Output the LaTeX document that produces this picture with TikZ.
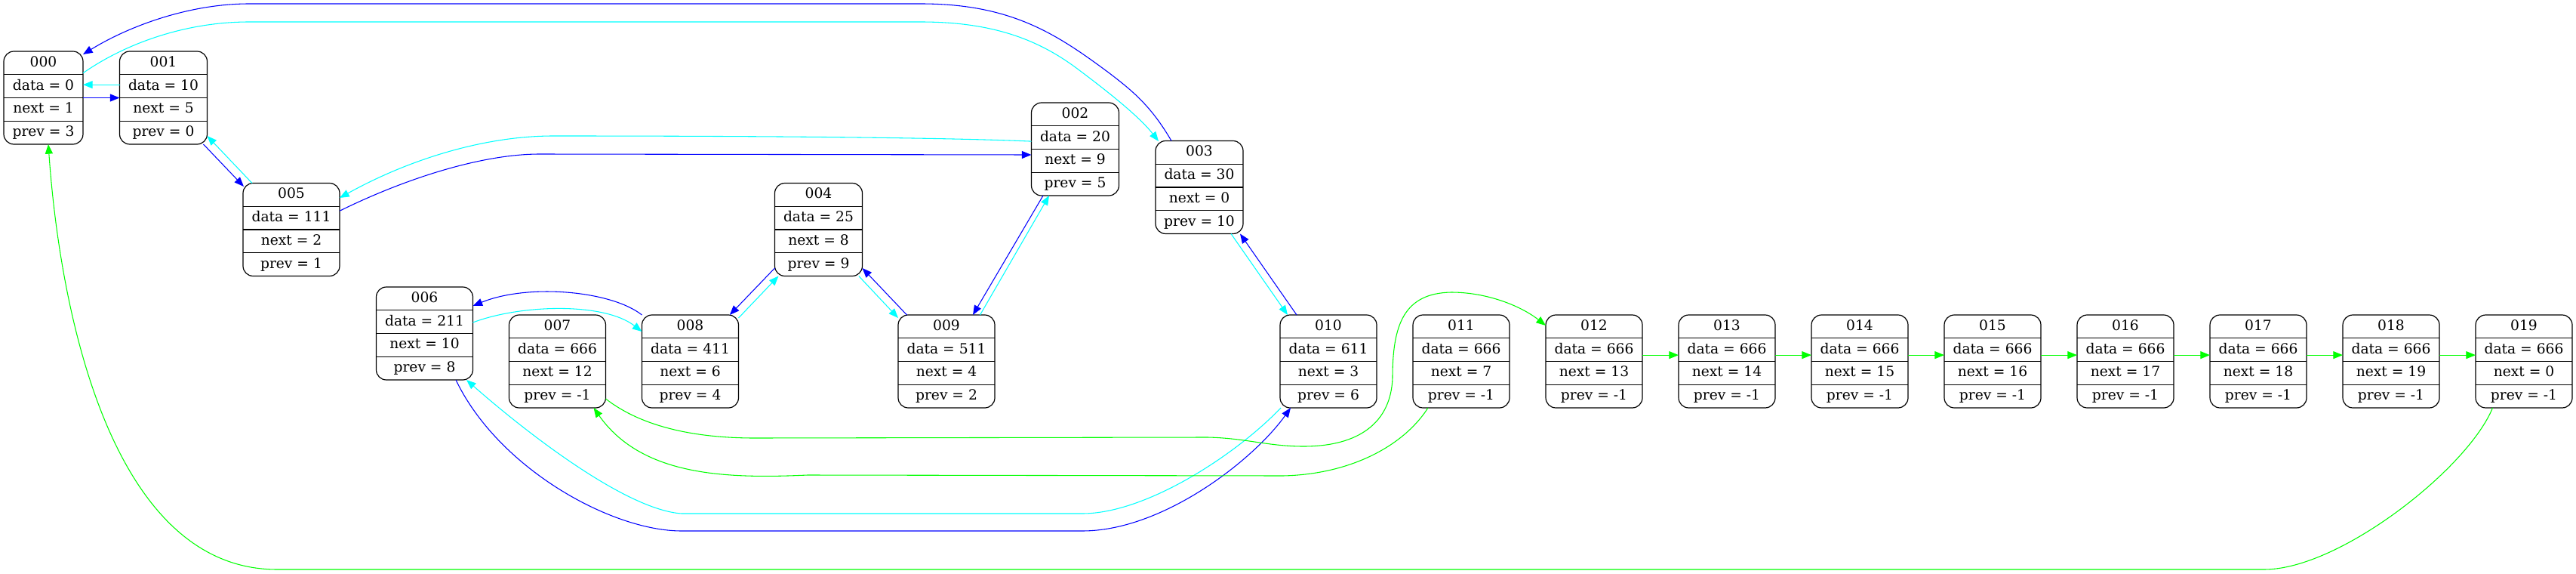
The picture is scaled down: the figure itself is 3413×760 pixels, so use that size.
\documentclass[tikz,border=0pt]{standalone}
\usepackage{fontspec}
\newfontfamily\recfont{DejaVu Serif}
\usetikzlibrary{arrows.meta,calc}
\definecolor{gvblue}{RGB}{0,0,255}
\definecolor{gvcyan}{RGB}{0,255,255}
\definecolor{gvgreen}{RGB}{0,255,0}
\tikzset{
  recbox/.style={draw=black, line width=0.9pt, rounded corners=10pt, inner sep=0pt, outer sep=0pt,
    minimum height=92.25pt, anchor=north west},
  cellbox/.style={inner sep=0pt, outer sep=0pt, minimum height=23.0625pt, text height=10pt, text depth=2.5pt,
    font={\recfont\fontsize{14}{16}\selectfont}, anchor=north},
  sepline/.style={draw=black, line width=0.9pt},
  tipstyle/.style={-{Triangle[length=9.5pt,width=7.5pt]}},
  nxedge/.style={draw=gvblue, line width=0.8pt, tipstyle},
  pvedge/.style={draw=gvcyan, line width=0.8pt, tipstyle},
  fredge/.style={draw=gvgreen, line width=0.8pt, tipstyle}
}
\newcommand\recnode[8]{%
  \node[recbox, minimum width=#4*0.75pt] (#1) at (#2,#3) {};
  \node[cellbox, minimum width=#4*0.75pt] (#1-t) at (#1.north) {#5};
  \node[cellbox, minimum width=#4*0.75pt] (#1-d) at (#1-t.south) {#6};
  \node[cellbox, minimum width=#4*0.75pt] (#1-n) at (#1-d.south) {#7};
  \node[cellbox, minimum width=#4*0.75pt] (#1-p) at (#1-n.south) {#8};
  \draw[sepline] (#1-t.south west) -- (#1-t.south east)
                 (#1-d.south west) -- (#1-d.south east)
                 (#1-n.south west) -- (#1-n.south east);
}
\begin{document}
\begin{tikzpicture}[x=0.75pt, y=-0.75pt]
\useasboundingbox (0,0) rectangle (3413,760);

\recnode{n000}{5}{68}{105}{000}{data = 0}{next = 1}{prev = 3}
\recnode{n001}{158.5}{68}{116}{001}{data = 10}{next = 5}{prev = 0}
\recnode{n002}{1366.5}{136}{116}{002}{data = 20}{next = 9}{prev = 5}
\recnode{n003}{1531}{186.5}{116}{003}{data = 30}{next = 0}{prev = 10}
\recnode{n004}{1026.5}{242.5}{116}{004}{data = 25}{next = 8}{prev = 9}
\recnode{n005}{322}{242.5}{128}{005}{data = 111}{next = 2}{prev = 1}
\recnode{n006}{498.5}{380}{128}{006}{data = 211}{next = 10}{prev = 8}
\recnode{n007}{674.5}{417}{128}{007}{data = 666}{next = 12}{prev = -1}
\recnode{n008}{850.5}{417}{128}{008}{data = 411}{next = 6}{prev = 4}
\recnode{n009}{1190}{417}{128}{009}{data = 511}{next = 4}{prev = 2}
\recnode{n010}{1696}{417}{128}{010}{data = 611}{next = 3}{prev = 6}
\recnode{n011}{1872}{417}{128}{011}{data = 666}{next = 7}{prev = -1}
\recnode{n012}{2048}{417}{128}{012}{data = 666}{next = 13}{prev = -1}
\recnode{n013}{2224}{417}{128}{013}{data = 666}{next = 14}{prev = -1}
\recnode{n014}{2400}{417}{128}{014}{data = 666}{next = 15}{prev = -1}
\recnode{n015}{2576}{417}{128}{015}{data = 666}{next = 16}{prev = -1}
\recnode{n016}{2752}{417}{128}{016}{data = 666}{next = 17}{prev = -1}
\recnode{n017}{2928}{417}{128}{017}{data = 666}{next = 18}{prev = -1}
\recnode{n018}{3104}{417}{128}{018}{data = 666}{next = 19}{prev = -1}
\recnode{n019}{3280}{417}{128}{019}{data = 666}{next = 0}{prev = -1}

% next pointers (blue)
\draw[nxedge] (n000-n.north east) -- (n001-n.north west);
\draw[nxedge] ([shift={(-5,0)}]n001.south east) -- ([shift={(1,4.5)}]n005.north west);
\draw[nxedge] ([shift={(0,6)}]n005-d.north east) .. controls (540,235) and (640,204) .. (715,204)
   -- ([shift={(0,7.5)}]n002-n.north west);
\draw[nxedge] ([shift={(15.5,0)}]n002.south west) -- ([shift={(-29,0)}]n009.north east);
\draw[nxedge] ([shift={(11.5,0)}]n009.north west) -- ([shift={(0,-10.5)}]n004.south east);
\draw[nxedge] ([shift={(0,-10.5)}]n004.south west) -- ([shift={(-11.7,0)}]n008.north east);
\draw[nxedge] (n008.north west) .. controls (810,385) and (700,375) .. ([shift={(0,25)}]n006.north east);
\draw[nxedge] ([shift={(41.5,0)}]n006.south) .. controls (660,620) and (810,703) .. (903,703)
   -- (1434,703) .. controls (1540,703) and (1660,610) .. ([shift={(14,0)}]n010.south west);
\draw[nxedge] ([shift={(22,0)}]n010.north west) -- ([shift={(-4,0)}]n003.south east);
\draw[nxedge] ([shift={(21,0)}]n003.north west) .. controls (1525,140) and (1500,120) .. (1470,97)
   .. controls (1400,45) and (1340,5) .. (1220,5) -- (330,5)
   .. controls (250,5) and (170,35) .. ([shift={(0,4)}]n000.north east);

% prev pointers (cyan)
\draw[pvedge] ([shift={(0,-2)}]n001-d.west) -- ([shift={(0,-2)}]n000-d.east);
\draw[pvedge] ([shift={(12,0)}]n005.north west) -- ([shift={(0,-11)}]n001.south east);
\draw[pvedge] ([shift={(0,5)}]n002-d.west) .. controls (1250,182) and (1000,180) .. (733,180)
   .. controls (640,180) and (540,212) .. ([shift={(0,19.5)}]n005.north east);
\draw[pvedge] ([shift={(-19.5,0)}]n009.north east) -- ([shift={(23.5,0)}]n002.south west);
\draw[pvedge] ([shift={(-4.7,0)}]n004.south east) -- ([shift={(0,4)}]n009.north west);
\draw[pvedge] ([shift={(0,4)}]n008.north east) -- ([shift={(5,0)}]n004.south west);
\draw[pvedge] ([shift={(0,47)}]n006.north east) .. controls (690,403) and (800,400) .. ([shift={(0,22)}]n008.north west);
\draw[pvedge] ([shift={(1,0)}]n010.south west) .. controls (1640,600) and (1520,680) .. (1434,680)
   -- (903,680) .. controls (830,675) and (700,575) .. ([shift={(-8.5,0)}]n006.south east);
\draw[pvedge] ([shift={(-16,0)}]n003.south east) -- ([shift={(10,0)}]n010.north west);
\draw[pvedge] ([shift={(0,-2)}]n000-t.south east) .. controls (170,55) and (250,29) .. (330,29)
   -- (1220,29) .. controls (1320,29) and (1380,55) .. (1430,93)
   .. controls (1470,123) and (1510,155) .. ([shift={(4,0.5)}]n003.north west);

% free list (green)
\draw[fredge] ([shift={(0,-12)}]n007.south east) .. controls (850,565) and (920,580) .. (1000,580)
   -- (1600,579) .. controls (1650,580) and (1680,591) .. (1727,591)
   .. controls (1800,591) and (1843,560) .. (1845,500)
   .. controls (1845,430) and (1860,388) .. (1923,387)
   .. controls (1970,387) and (2015,405) .. ([shift={(0,14)}]n012.north west);
\draw[fredge] ([shift={(20,0)}]n011.south west) .. controls (1860,590) and (1790,628) .. (1700,630)
   -- (1070,629) .. controls (960,634) and (850,630) .. ([shift={(-16,0)}]n007.south east);
\foreach \a/\b in {012/013,013/014,014/015,015/016,016/017,017/018,018/019}
  \draw[fredge] ([shift={(0,7)}]n\a-d.east) -- ([shift={(0,7)}]n\b-d.west);
\draw[fredge] ([shift={(22.5,0)}]n019.south west) .. controls (3270,620) and (3100,754) .. (3000,754)
   -- (367,754) .. controls (150,754) and (80,420) .. ([shift={(6.5,0)}]n000.south);
\end{tikzpicture}
\end{document}
